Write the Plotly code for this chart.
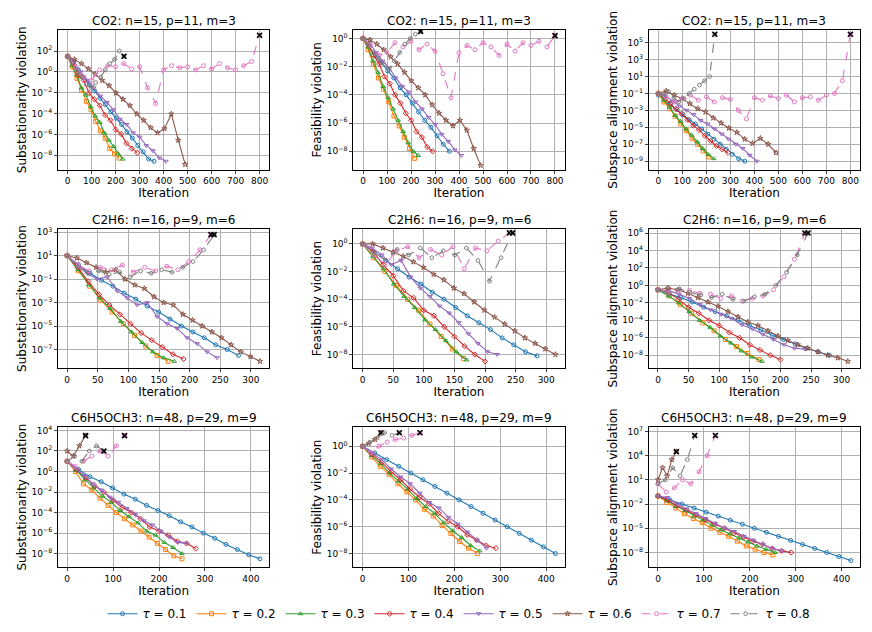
import numpy as np
import plotly.graph_objects as go
from plotly.subplots import make_subplots

taus = ["0.1", "0.2", "0.3", "0.4", "0.5", "0.6", "0.7", "0.8"]
colors = ["#1f77b4", "#ff7f0e", "#2ca02c", "#d62728", "#9467bd", "#8c564b", "#e377c2", "#7f7f7f"]
symbols = ["circle-open", "square-open", "triangle-up-open", "diamond-open", "triangle-down-open",
           "star-open", "circle-open", "hexagon-open"]
dashes = ["solid"] * 6 + ["dash", "dash"]

titles = ["CO2: n=15, p=11, m=3"] * 3 + ["C2H6: n=16, p=9, m=6"] * 3 + ["C6H5OCH3: n=48, p=29, m=9"] * 3
ylabels = ["Substationarity violation", "Feasibility violation", "Subspace alignment violation"]

# each series: (final iteration, log10 values at evenly spaced iterations)
co2_stat = [
    (360, [1.5,0.8,0.2,-0.5,-1.2,-1.8,-2.5,-3.1,-3.8,-4.4,-5.0,-5.7,-6.3,-7.0,-7.6,-8.3,-8.5]),
    (215, [1.5,0.5,-0.6,-1.7,-2.8,-3.6,-4.7,-5.6,-6.3,-7.3,-7.8,-8.2]),
    (230, [1.5,0.6,-0.3,-1.5,-2.2,-3.3,-4.2,-4.8,-5.8,-6.5,-7.1,-7.8,-8.3]),
    (290, [1.5,0.9,-0.3,-0.8,-2.0,-2.6,-3.2,-4.1,-4.6,-5.5,-5.9,-6.8,-7.3,-7.7]),
    (410, [1.5,1.0,0.0,-0.8,-1.5,-2.3,-2.9,-3.6,-4.5,-5.0,-5.8,-6.2,-7.0,-7.5,-8.2,-8.5]),
    (490, [1.5,1.2,0.8,0.3,-0.2,-0.8,-1.3,-2.0,-2.6,-3.2,-4.0,-4.6,-5.3,-5.8,-5.4,-4.0,-6.5,-8.8]),
    (800, [1.5,0.5,-0.5,-0.8,0.2,0.6,0.5,0.8,0.3,0.5,-1.5,-3.0,0.2,0.6,0.4,0.5,0.2,0.6,0.3,0.8,0.4,0.2,0.6,1.0,3.5]),
    (235, [1.5,0.8,0.0,-0.5,-1.2,-1.5,-1.0,-0.5,0.2,0.8,1.2,2.0,1.5]),
]
co2_feas = [
    (360, [0,-0.6,-1.2,-1.7,-2.3,-2.8,-3.5,-4.0,-4.6,-5.2,-5.8,-6.3,-6.9,-7.5,-8.0]),
    (215, [0,-0.8,-1.8,-2.8,-3.6,-4.5,-5.5,-6.2,-7.0,-7.8,-8.5]),
    (230, [0,-0.6,-1.6,-2.4,-3.4,-4.2,-5.0,-5.8,-6.6,-7.4,-8.0,-8.3]),
    (290, [0,-0.4,-1.2,-1.8,-2.7,-3.2,-4.0,-4.6,-5.3,-5.8,-6.6,-7.0,-7.7,-8.0]),
    (410, [0,-0.3,-1.0,-1.6,-2.1,-2.8,-3.4,-3.8,-4.5,-5.0,-5.6,-6.1,-6.8,-7.3,-7.9,-8.3]),
    (490, [0,-0.1,-0.4,-0.8,-1.3,-1.8,-2.4,-3.0,-3.5,-4.0,-4.7,-5.3,-5.8,-6.2,-5.8,-6.5,-7.8,-9.0]),
    (800, [0,-0.5,-1.2,-1.0,-0.3,-0.6,-0.2,-0.8,-0.4,-0.9,-2.5,-4.2,-1.0,-0.5,-0.8,-0.3,-0.6,-1.2,-0.4,-0.9,-0.3,-0.5,-0.2,-0.6,0.2]),
    (240, [0,-0.5,-1.0,-1.4,-1.8,-2.2,-1.6,-1.0,-0.4,0.0,0.3,0.5]),
]
co2_sub = [
    (360, [-1.2,-1.8,-2.3,-2.9,-3.5,-4.1,-4.6,-5.2,-5.8,-6.4,-7.0,-7.6,-8.2,-8.7,-9.0]),
    (210, [-1.0,-2.0,-2.8,-3.7,-4.6,-5.4,-6.3,-7.0,-7.8,-8.5]),
    (230, [-1.0,-1.8,-2.6,-3.6,-4.3,-5.2,-5.9,-6.7,-7.5,-8.2,-8.7]),
    (290, [-1.0,-1.4,-2.2,-2.8,-3.4,-4.1,-4.8,-5.3,-6.0,-6.6,-7.2,-7.6,-8.0]),
    (410, [-1.0,-1.3,-1.9,-2.5,-3.0,-3.5,-4.2,-4.6,-5.2,-5.8,-6.4,-7.0,-7.5,-8.3,-9.0]),
    (490, [-1.0,-0.7,-1.2,-1.6,-2.2,-2.8,-3.2,-3.9,-4.5,-5.1,-5.6,-6.4,-6.9,-6.3,-7.0,-8.0]),
    (800, [-1.0,-1.5,-2.0,-1.6,-1.2,-1.8,-1.4,-2.0,-1.5,-1.7,-3.0,-4.0,-1.5,-1.8,-1.3,-1.6,-1.2,-2.0,-1.5,-1.4,-1.8,-1.2,-1.0,0.5,6.0]),
    (235, [-1.0,-1.2,-0.8,-1.5,-2.0,-1.6,-1.0,-0.5,0.0,0.5,1.0,6.0]),
]
c2h6_stat = [
    (280, [1,0.2,-0.5,-1.1,-1.6,-2.2,-2.7,-3.3,-3.8,-4.4,-5.0,-5.5,-6.0,-6.6,-7.0,-7.5]),
    (165, [1,-0.3,-1.6,-2.8,-3.8,-4.8,-5.8,-6.7,-7.5,-8.0]),
    (175, [1,-0.2,-1.5,-2.6,-3.5,-4.6,-5.5,-6.4,-7.2,-7.7,-8.0]),
    (190, [1,0.0,-1.2,-2.3,-3.2,-4.0,-4.8,-5.6,-6.2,-6.8,-7.4,-7.8]),
    (245, [1,0.3,-0.5,-1.0,-0.8,-2.0,-2.6,-3.2,-3.0,-4.2,-4.8,-5.2,-6.0,-6.5,-7.2,-7.7]),
    (315, [1,0.8,0.4,0.0,-0.4,-0.2,-1.0,-1.5,-1.8,-2.5,-3.0,-3.2,-4.0,-4.5,-5.0,-5.5,-6.0,-6.6,-7.2,-7.6,-8.0]),
    (235, [1,0.2,-0.3,0.0,-0.2,0.2,-0.4,0.0,-0.3,0.1,-0.2,0.5,1.5,2.8]),
    (240, [1,0.0,-0.5,-0.3,-0.6,-0.4,-0.8,-0.3,-0.5,-0.2,-0.4,0.0,0.5,1.5,2.8]),
]
c2h6_feas = [
    (285, [0,-0.6,-1.2,-1.8,-2.4,-2.9,-3.5,-4.0,-4.6,-5.2,-5.7,-6.2,-6.8,-7.3,-7.8,-8.1]),
    (165, [0,-1.0,-2.0,-3.0,-4.0,-4.8,-5.8,-6.7,-7.6,-8.3]),
    (170, [0,-0.9,-1.8,-2.9,-3.8,-4.6,-5.5,-6.2,-7.0,-7.8,-8.4]),
    (200, [0,-0.5,-1.5,-2.3,-3.4,-3.9,-4.8,-5.2,-6.0,-6.7,-7.4,-8.0,-8.5]),
    (220, [0,-0.3,-0.8,-1.5,-1.2,-2.4,-3.2,-3.8,-4.5,-5.0,-5.7,-6.5,-7.2,-7.8,-8.0]),
    (315, [0,0.0,-0.3,-0.6,-0.9,-1.3,-1.7,-2.2,-2.6,-3.2,-3.6,-4.2,-4.8,-5.3,-5.8,-6.3,-6.8,-7.2,-7.6,-8.0]),
    (240, [0,-0.8,-1.5,-0.5,-0.2,-1.0,-0.4,-0.8,-0.2,-1.8,-0.3,-0.5,0.2,0.8]),
    (245, [0,-0.6,-1.2,-0.4,-0.8,-0.3,-1.0,-0.5,-0.8,-0.3,-1.2,-2.7,-1.0,0.8]),
]
c2h6_sub = [
    (280, [-0.5,-1.0,-1.4,-1.9,-2.5,-3.0,-3.5,-4.0,-4.6,-5.1,-5.7,-6.2,-6.7,-7.2,-7.6,-8.0]),
    (165, [-0.5,-1.2,-2.2,-3.2,-4.3,-5.2,-6.2,-7.0,-7.8,-8.5]),
    (170, [-0.5,-1.2,-2.0,-3.0,-4.0,-4.8,-5.8,-6.6,-7.5,-8.2,-8.7]),
    (200, [-0.5,-0.8,-1.6,-2.5,-3.2,-4.0,-4.6,-5.4,-6.0,-6.8,-7.4,-8.0,-8.5]),
    (240, [-0.5,-0.6,-1.0,-1.5,-2.2,-2.8,-3.3,-3.8,-4.5,-5.0,-5.6,-6.2,-6.8,-7.2,-7.3]),
    (310, [-0.5,-0.3,-0.5,-0.9,-1.4,-1.9,-2.4,-3.0,-3.6,-4.2,-4.6,-5.2,-5.8,-6.3,-6.8,-7.2,-7.6,-8.0,-8.3,-8.7]),
    (240, [-0.5,-0.8,-0.5,-0.6,-0.9,-1.0,-1.5,-1.2,-1.8,-1.5,-1.2,-0.5,1.0,3.0,6.0]),
    (245, [-0.5,-0.9,-0.4,-0.8,-1.1,-1.4,-1.0,-1.6,-1.8,-1.3,-1.0,0.0,1.5,3.5,6.0]),
]
c6_stat = [
    (420, [1,0.2,-0.5,-1.0,-1.6,-2.2,-2.7,-3.3,-3.8,-4.3,-4.9,-5.4,-6.0,-6.5,-7.1,-7.6,-8.1,-8.5]),
    (250, [1,0.0,-1.2,-1.8,-2.6,-3.3,-4.0,-4.6,-5.2,-5.8,-6.4,-7.0,-7.6,-8.2,-8.5]),
    (250, [1,0.1,-0.8,-1.6,-2.4,-3.0,-3.8,-4.4,-5.0,-5.8,-6.2,-6.9,-7.4,-8.0]),
    (280, [1,0.2,-0.6,-1.4,-2.0,-2.8,-3.5,-4.0,-4.6,-5.4,-5.8,-6.2,-6.8,-7.0,-7.5]),
    (260, [1,0.3,-0.4,-1.2,-1.8,-2.5,-3.0,-3.6,-4.2,-4.8,-5.2,-5.8,-6.4,-6.9,-7.0]),
    (40, [2.0,1.5,2.5,3.5]),
    (125, [1.0,0.5,1.0,1.5,2.0,1.5,2.5,3.5]),
    (80, [1.0,1.5,1.0,2.0,2.5,2.0]),
]
c6_feas = [
    (420, [0,-0.5,-1.0,-1.5,-2.0,-2.5,-3.0,-3.5,-4.0,-4.5,-5.0,-5.5,-6.0,-6.5,-7.0,-7.5,-8.0]),
    (250, [0,-0.8,-1.5,-2.1,-2.8,-3.4,-4.0,-4.7,-5.2,-5.9,-6.5,-7.1,-7.6,-8.0]),
    (255, [0,-0.7,-1.3,-2.0,-2.6,-3.2,-3.9,-4.5,-5.0,-5.7,-6.3,-6.8,-7.4,-7.8]),
    (290, [0,-0.6,-1.2,-1.9,-2.5,-3.2,-3.8,-4.3,-5.0,-5.6,-6.0,-6.6,-7.0,-7.4,-7.6]),
    (270, [0,-0.5,-1.0,-1.7,-2.3,-2.8,-3.5,-4.2,-4.6,-5.3,-5.8,-6.4,-7.0,-7.6]),
    (40, [0,0.2,0.5,1.0]),
    (125, [0,-0.5,0.0,0.3,0.5,0.6,0.8,1.0]),
    (80, [0,0.3,0.6,1.0,0.8,1.0]),
]
c6_sub = [
    (420, [-1,-1.5,-2.0,-2.5,-3.0,-3.5,-4.0,-4.5,-5.0,-5.5,-6.0,-6.5,-7.0,-7.5,-8.0,-8.5,-9.0]),
    (250, [-1,-1.8,-2.5,-3.2,-3.8,-4.3,-5.0,-5.5,-6.0,-6.6,-7.2,-7.6,-8.0,-8.3]),
    (255, [-1,-1.6,-2.3,-2.8,-3.5,-4.0,-4.6,-5.2,-5.7,-6.2,-6.7,-7.2,-7.6,-8.0]),
    (290, [-1,-1.5,-2.2,-2.8,-3.3,-4.0,-4.5,-5.0,-5.6,-6.1,-6.6,-7.0,-7.5,-7.8,-8.0]),
    (270, [-1,-1.2,-2.0,-2.6,-3.2,-3.8,-4.4,-5.0,-5.4,-6.0,-6.5,-7.0,-7.5,-7.8]),
    (40, [1.0,2.5,1.5,3.5,4.5]),
    (125, [0.5,-0.5,0.0,1.0,0.5,2.0,4.0,6.5]),
    (80, [0.5,1.0,2.5,1.5,3.5,6.5]),
]

panels = [co2_stat, co2_feas, co2_sub, c2h6_stat, c2h6_feas, c2h6_sub, c6_stat, c6_feas, c6_sub]
diverged = [[6, 7], [6, 7], [6, 7], [6, 7], [6, 7], [6, 7], [5, 6, 7], [5, 6, 7], [5, 6, 7]]
yranges = [(-9.3, 4), (-9.3, 0.6), (-10, 6.5), (-8.6, 3.3), (-9, 1.1), (-9.5, 6.5), (-9.3, 4.3), (-9, 1.4), (-9.8, 7.5)]
yticks = [range(-8, 3, 2), range(-8, 1, 2), range(-9, 6, 2), range(-7, 4, 2), range(-8, 1, 2),
          range(-8, 7, 2), range(-8, 5, 2), range(-8, 1, 2), range(-8, 8, 3)]
xranges = [(-40, 840)] * 3 + [(-15, 330)] * 3 + [(-20, 440)] * 3
xdtick = [100] * 3 + [50] * 3 + [100] * 3

fig = make_subplots(rows=3, cols=3, subplot_titles=titles,
                    horizontal_spacing=0.105, vertical_spacing=0.11)

def sup(k):
    return "10<sup>" + (str(k) if k >= 0 else "\u2212" + str(-k)) + "</sup>"

for p, data in enumerate(panels):
    r, c = p // 3 + 1, p % 3 + 1
    for i, (end, vals) in enumerate(data):
        x = np.linspace(0, end, len(vals))
        y = 10 ** np.array(vals, dtype=float)
        fig.add_trace(go.Scatter(
            x=x, y=y, mode="lines+markers", name="<i>τ</i> = " + taus[i],
            legendgroup=taus[i], showlegend=(p == 0),
            line=dict(color=colors[i], width=1.1, dash=dashes[i]),
            marker=dict(symbol=symbols[i], size=4, color=colors[i], line=dict(width=1))), row=r, col=c)
        if i in diverged[p]:
            fig.add_trace(go.Scatter(x=[x[-1]], y=[y[-1]], mode="markers", showlegend=False,
                                     marker=dict(symbol="x-thin", size=5, line=dict(width=1.6, color="black"))),
                          row=r, col=c)
    tv = list(yticks[p])
    fig.update_yaxes(type="log", range=list(yranges[p]), tickvals=[10.0 ** k for k in tv],
                     ticktext=[sup(k) for k in tv], title_text=ylabels[c - 1], row=r, col=c)
    fig.update_xaxes(range=list(xranges[p]), dtick=xdtick[p], title_text="Iteration", row=r, col=c)

fig.update_xaxes(showgrid=True, gridcolor="#b0b0b0", gridwidth=0.8, showline=True, linecolor="black",
                 mirror=True, ticks="outside", ticklen=3, tickfont=dict(size=9), zeroline=False,
                 title_font=dict(size=12), title_standoff=2)
fig.update_yaxes(showgrid=True, gridcolor="#b0b0b0", gridwidth=0.8, showline=True, linecolor="black",
                 mirror=True, ticks="outside", ticklen=3, tickfont=dict(size=9), zeroline=False,
                 title_font=dict(size=12), title_standoff=2)
fig.update_annotations(font=dict(size=12))

fig.update_layout(
    width=872, height=632, template="none", plot_bgcolor="white", paper_bgcolor="white",
    font=dict(family="DejaVu Sans", color="black"),
    margin=dict(l=50, r=20, t=22, b=52),
    legend=dict(orientation="h", x=0.5, xanchor="center", y=-0.06, yanchor="top",
                font=dict(size=12), itemwidth=30, tracegroupgap=0),
)
fig.write_html("out.html")
